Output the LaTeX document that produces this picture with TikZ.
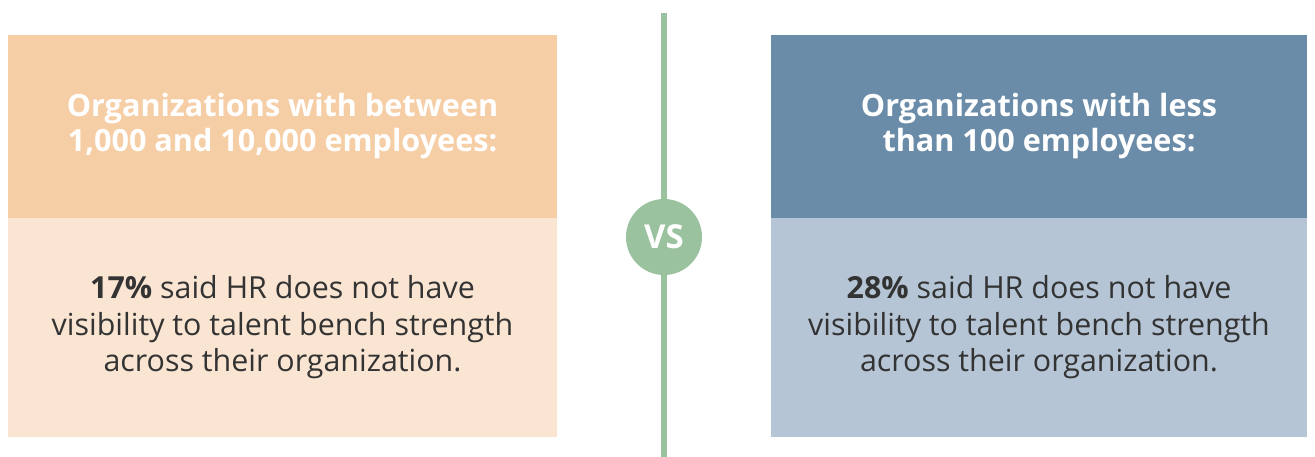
\documentclass[tikz,border=0pt]{standalone}
\usepackage{fontspec}
\setmainfont{Open Sans}
\usepackage{tikz}

\definecolor{peachdark}{HTML}{F6CEA6}
\definecolor{peachlight}{HTML}{FAE5D3}
\definecolor{bluedark}{HTML}{6A8CA9}
\definecolor{bluelight}{HTML}{B5C5D5}
\definecolor{vsgreen}{HTML}{9BC29F}
\definecolor{bodytext}{HTML}{333333}

\begin{document}
\begin{tikzpicture}[
            x=1pt, y=-1pt,
            every node/.style={inner sep=0pt, align=center},
            head/.style={minimum height=183pt, text=white,
                font=\fontsize{30.6}{35}\selectfont\bfseries},
            body/.style={minimum height=219pt, text=bodytext,
                font=\fontsize{30.4}{36.5}\selectfont}
        ]
        \useasboundingbox (0,0) rectangle (1315,457);
        % left column
        \node[head, fill=peachdark, minimum width=549pt] (Hl) at (282.5,126.5)
            {Organizations with between\\1,000 and 10,000 employees:};
        \node[body, fill=peachlight, minimum width=549pt] (Bl) at (282.5,327.5)
            {\textbf{17\%} said HR does not have\\visibility to talent bench strength\\across their organization.};
        % right column
        \node[head, fill=bluedark, minimum width=536pt] (Hr) at (1039,126.5)
            {Organizations with less\\than 100 employees:};
        \node[body, fill=bluelight, minimum width=536pt] (Br) at (1039,327.5)
            {\textbf{28\%} said HR does not have\\visibility to talent bench strength\\across their organization.};
        % divider
        \coordinate (Top) at (664,13);
        \coordinate (Bot) at (664,457);
        \draw[vsgreen, line width=6pt] (Top) -- (Bot);
        \node[circle, fill=vsgreen, minimum size=76pt, text=white,
            font=\fontsize{33}{33}\selectfont\bfseries] (VS) at (664,237) {VS};
        \end{tikzpicture}
\end{document}
